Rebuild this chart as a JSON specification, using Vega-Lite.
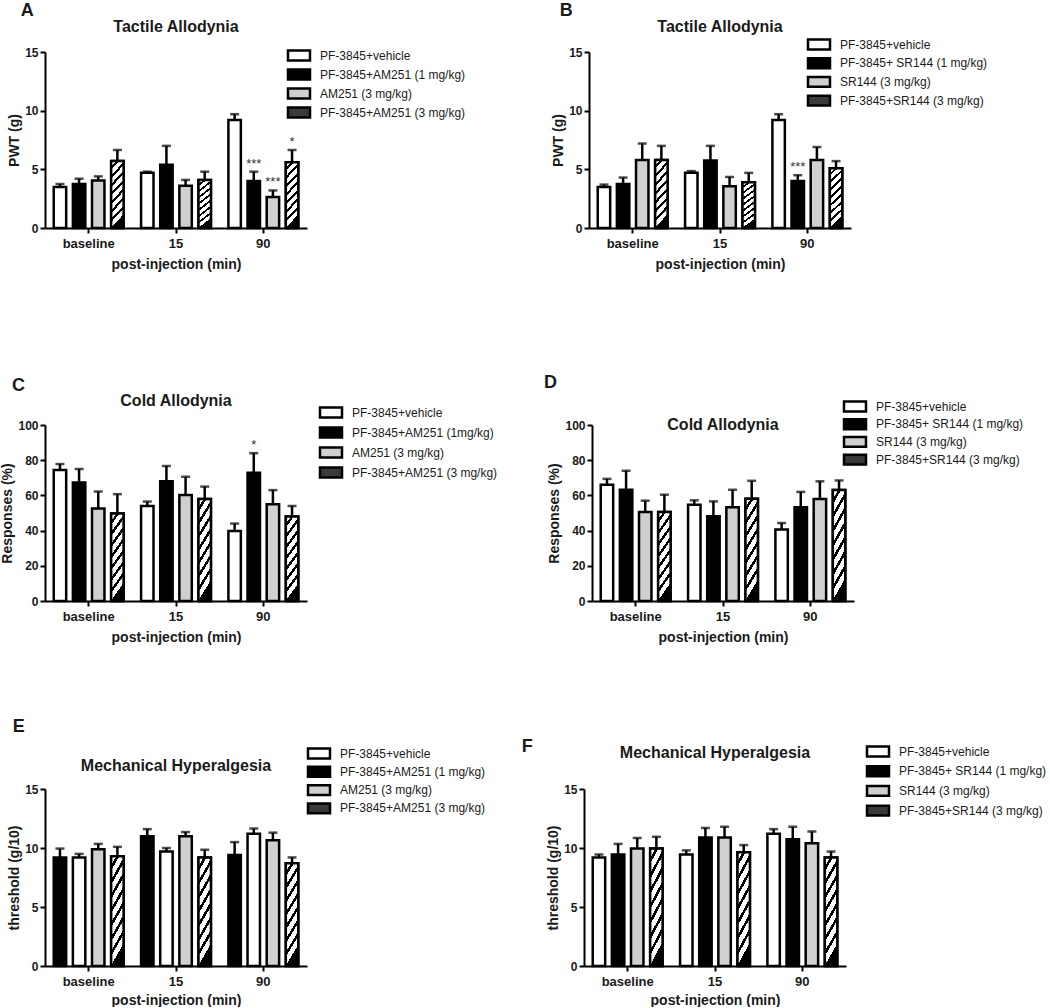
{
"$schema": "https://vega.github.io/schema/vega-lite/v6.json",
"background": "white",
"padding": {"left": 0, "top": 2, "right": 0, "bottom": 0},
"config": {
  "font": "Liberation Sans",
  "view": {"stroke": null},
  "axis": {"domainColor": "black", "domainWidth": 2, "tickColor": "black", "tickWidth": 2, "tickSize": 5, "labelFont": "Liberation Sans", "labelFontWeight": "bold", "labelFontSize": 12, "labelColor": "#1a1a1a", "titleFont": "Liberation Sans", "titleFontWeight": "bold", "titleFontSize": 14, "titleColor": "#1a1a1a", "grid": false, "labelPadding": 2},
  "axisX": {"labelFontSize": 13, "labelAngle": 0, "labelPadding": 4, "titlePadding": 7},
  "axisY": {"titlePadding": 3},
  "title": {"font": "Liberation Sans", "fontWeight": "bold", "fontSize": 16, "color": "#1a1a1a"},
  "legend": {"labelFont": "Liberation Sans", "labelFontSize": 12, "labelColor": "#1a1a1a", "symbolType": "M-2,-0.9H2V0.9H-2Z", "symbolSize": 121, "labelOffset": 14, "padding": 0, "symbolStrokeColor": "black", "symbolStrokeWidth": 2.5}
},
"datasets": {
  "A": [
    {"time": "baseline", "group": "PF-3845+vehicle", "mean": 3.5, "err": 3.75, "sig": ""},
    {"time": "baseline", "group": "PF-3845+AM251 (1 mg/kg)", "mean": 3.75, "err": 4.2, "sig": ""},
    {"time": "baseline", "group": "AM251 (3 mg/kg)", "mean": 4.05, "err": 4.4, "sig": ""},
    {"time": "baseline", "group": "PF-3845+AM251 (3 mg/kg)", "mean": 5.7, "err": 6.65, "sig": ""},
    {"time": "15", "group": "PF-3845+vehicle", "mean": 4.7, "err": 4.8, "sig": ""},
    {"time": "15", "group": "PF-3845+AM251 (1 mg/kg)", "mean": 5.4, "err": 7.0, "sig": ""},
    {"time": "15", "group": "AM251 (3 mg/kg)", "mean": 3.6, "err": 4.1, "sig": ""},
    {"time": "15", "group": "PF-3845+AM251 (3 mg/kg)", "mean": 4.1, "err": 4.8, "sig": ""},
    {"time": "90", "group": "PF-3845+vehicle", "mean": 9.2, "err": 9.7, "sig": ""},
    {"time": "90", "group": "PF-3845+AM251 (1 mg/kg)", "mean": 4.0, "err": 4.8, "sig": "***"},
    {"time": "90", "group": "AM251 (3 mg/kg)", "mean": 2.65, "err": 3.2, "sig": "***"},
    {"time": "90", "group": "PF-3845+AM251 (3 mg/kg)", "mean": 5.6, "err": 6.65, "sig": "*"}
  ],
  "B": [
    {"time": "baseline", "group": "PF-3845+vehicle", "mean": 3.5, "err": 3.7, "sig": ""},
    {"time": "baseline", "group": "PF-3845+ SR144 (1 mg/kg)", "mean": 3.75, "err": 4.3, "sig": ""},
    {"time": "baseline", "group": "SR144 (3 mg/kg)", "mean": 5.8, "err": 7.2, "sig": ""},
    {"time": "baseline", "group": "PF-3845+SR144 (3 mg/kg)", "mean": 5.8, "err": 7.0, "sig": ""},
    {"time": "15", "group": "PF-3845+vehicle", "mean": 4.7, "err": 4.85, "sig": ""},
    {"time": "15", "group": "PF-3845+ SR144 (1 mg/kg)", "mean": 5.75, "err": 7.0, "sig": ""},
    {"time": "15", "group": "SR144 (3 mg/kg)", "mean": 3.55, "err": 4.35, "sig": ""},
    {"time": "15", "group": "PF-3845+SR144 (3 mg/kg)", "mean": 3.9, "err": 4.7, "sig": ""},
    {"time": "90", "group": "PF-3845+vehicle", "mean": 9.2, "err": 9.7, "sig": ""},
    {"time": "90", "group": "PF-3845+ SR144 (1 mg/kg)", "mean": 4.0, "err": 4.5, "sig": "***"},
    {"time": "90", "group": "SR144 (3 mg/kg)", "mean": 5.8, "err": 6.9, "sig": ""},
    {"time": "90", "group": "PF-3845+SR144 (3 mg/kg)", "mean": 5.1, "err": 5.7, "sig": ""}
  ],
  "C": [
    {"time": "baseline", "group": "PF-3845+vehicle", "mean": 74.4, "err": 77.8, "sig": ""},
    {"time": "baseline", "group": "PF-3845+AM251 (1mg/kg)", "mean": 67.4, "err": 75, "sig": ""},
    {"time": "baseline", "group": "AM251 (3 mg/kg)", "mean": 52.6, "err": 62.2, "sig": ""},
    {"time": "baseline", "group": "PF-3845+AM251 (3 mg/kg)", "mean": 49.7, "err": 60.7, "sig": ""},
    {"time": "15", "group": "PF-3845+vehicle", "mean": 54, "err": 56.5, "sig": ""},
    {"time": "15", "group": "PF-3845+AM251 (1mg/kg)", "mean": 68, "err": 76.7, "sig": ""},
    {"time": "15", "group": "AM251 (3 mg/kg)", "mean": 60.2, "err": 70.6, "sig": ""},
    {"time": "15", "group": "PF-3845+AM251 (3 mg/kg)", "mean": 58, "err": 65, "sig": ""},
    {"time": "90", "group": "PF-3845+vehicle", "mean": 39.8, "err": 44, "sig": ""},
    {"time": "90", "group": "PF-3845+AM251 (1mg/kg)", "mean": 72.9, "err": 84, "sig": "*"},
    {"time": "90", "group": "AM251 (3 mg/kg)", "mean": 55, "err": 63, "sig": ""},
    {"time": "90", "group": "PF-3845+AM251 (3 mg/kg)", "mean": 48, "err": 54, "sig": ""}
  ],
  "D": [
    {"time": "baseline", "group": "PF-3845+vehicle", "mean": 66, "err": 69.4, "sig": ""},
    {"time": "baseline", "group": "PF-3845+ SR144 (1 mg/kg)", "mean": 63.2, "err": 74, "sig": ""},
    {"time": "baseline", "group": "SR144 (3 mg/kg)", "mean": 50.6, "err": 57, "sig": ""},
    {"time": "baseline", "group": "PF-3845+SR144 (3 mg/kg)", "mean": 50.6, "err": 60.4, "sig": ""},
    {"time": "15", "group": "PF-3845+vehicle", "mean": 54.7, "err": 57.2, "sig": ""},
    {"time": "15", "group": "PF-3845+ SR144 (1 mg/kg)", "mean": 48.1, "err": 56.6, "sig": ""},
    {"time": "15", "group": "SR144 (3 mg/kg)", "mean": 53.2, "err": 63.2, "sig": ""},
    {"time": "15", "group": "PF-3845+SR144 (3 mg/kg)", "mean": 58.1, "err": 68.3, "sig": ""},
    {"time": "90", "group": "PF-3845+vehicle", "mean": 40.6, "err": 44.3, "sig": ""},
    {"time": "90", "group": "PF-3845+ SR144 (1 mg/kg)", "mean": 53.2, "err": 62, "sig": ""},
    {"time": "90", "group": "SR144 (3 mg/kg)", "mean": 58, "err": 68, "sig": ""},
    {"time": "90", "group": "PF-3845+SR144 (3 mg/kg)", "mean": 63, "err": 68.5, "sig": ""}
  ],
  "E": [
    {"time": "baseline", "group": "PF-3845+vehicle", "mean": 9.2, "err": 9.5, "sig": ""},
    {"time": "baseline", "group": "PF-3845+AM251 (1 mg/kg)", "mean": 9.2, "err": 9.95, "sig": ""},
    {"time": "baseline", "group": "AM251 (3 mg/kg)", "mean": 9.9, "err": 10.35, "sig": ""},
    {"time": "baseline", "group": "PF-3845+AM251 (3 mg/kg)", "mean": 9.3, "err": 10.1, "sig": ""},
    {"time": "15", "group": "PF-3845+vehicle", "mean": 9.7, "err": 10.0, "sig": ""},
    {"time": "15", "group": "PF-3845+AM251 (1 mg/kg)", "mean": 11.0, "err": 11.6, "sig": ""},
    {"time": "15", "group": "AM251 (3 mg/kg)", "mean": 11.0, "err": 11.35, "sig": ""},
    {"time": "15", "group": "PF-3845+AM251 (3 mg/kg)", "mean": 9.2, "err": 9.85, "sig": ""},
    {"time": "90", "group": "PF-3845+vehicle", "mean": 11.2, "err": 11.65, "sig": ""},
    {"time": "90", "group": "PF-3845+AM251 (1 mg/kg)", "mean": 9.4, "err": 10.5, "sig": ""},
    {"time": "90", "group": "AM251 (3 mg/kg)", "mean": 10.65, "err": 11.3, "sig": ""},
    {"time": "90", "group": "PF-3845+AM251 (3 mg/kg)", "mean": 8.7, "err": 9.2, "sig": ""}
  ],
  "F": [
    {"time": "baseline", "group": "PF-3845+vehicle", "mean": 9.2, "err": 9.45, "sig": ""},
    {"time": "baseline", "group": "PF-3845+ SR144 (1 mg/kg)", "mean": 9.45, "err": 10.35, "sig": ""},
    {"time": "baseline", "group": "SR144 (3 mg/kg)", "mean": 9.95, "err": 10.85, "sig": ""},
    {"time": "baseline", "group": "PF-3845+SR144 (3 mg/kg)", "mean": 9.95, "err": 10.95, "sig": ""},
    {"time": "15", "group": "PF-3845+vehicle", "mean": 9.45, "err": 9.8, "sig": ""},
    {"time": "15", "group": "PF-3845+ SR144 (1 mg/kg)", "mean": 10.9, "err": 11.7, "sig": ""},
    {"time": "15", "group": "SR144 (3 mg/kg)", "mean": 10.9, "err": 11.8, "sig": ""},
    {"time": "15", "group": "PF-3845+SR144 (3 mg/kg)", "mean": 9.65, "err": 10.25, "sig": ""},
    {"time": "90", "group": "PF-3845+vehicle", "mean": 11.2, "err": 11.6, "sig": ""},
    {"time": "90", "group": "PF-3845+ SR144 (1 mg/kg)", "mean": 10.75, "err": 11.8, "sig": ""},
    {"time": "90", "group": "SR144 (3 mg/kg)", "mean": 10.4, "err": 11.4, "sig": ""},
    {"time": "90", "group": "PF-3845+SR144 (3 mg/kg)", "mean": 9.2, "err": 9.7, "sig": ""}
  ]
},
"spacing": 102,
"resolve": {"scale": {"fill": "independent", "x": "independent", "y": "independent", "xOffset": "independent"}, "legend": {"fill": "independent"}},
"vconcat": [
{"hconcat": [
{
  "title": {"text": "A", "anchor": "start", "fontSize": 18, "offset": -1, "dx": 13},
  "vconcat": [{
    "title": {"text": "Tactile Allodynia", "offset": 11},
    "width": 262, "height": 176,
    "data": {"name": "A"},
    "encoding": {
      "x": {"field": "time", "type": "nominal", "sort": ["baseline", "15", "90"], "scale": {"paddingInner": 0.2, "paddingOuter": 0.1}, "axis": {"title": "post-injection (min)"}},
      "xOffset": {"field": "group", "type": "nominal", "scale": {"domain": ["PF-3845+vehicle", "PF-3845+AM251 (1 mg/kg)", "AM251 (3 mg/kg)", "PF-3845+AM251 (3 mg/kg)"], "paddingInner": 0.35, "paddingOuter": 0}},
      "y": {"field": "mean", "type": "quantitative", "scale": {"domain": [0, 15], "nice": false}, "axis": {"values": [0, 5, 10, 15], "title": "PWT (g)"}}
    },
    "layer": [
      {"mark": {"type": "rule", "color": "black", "strokeWidth": 2.5}, "encoding": {"y2": {"field": "err"}}},
      {"mark": {"type": "tick", "color": "black", "thickness": 2.5, "size": 9}, "encoding": {"y": {"field": "err", "type": "quantitative", "scale": {"domain": [0, 15], "nice": false}, "axis": {"values": [0, 5, 10, 15], "title": "PWT (g)"}}}},
      {"mark": {"type": "bar", "stroke": "black", "strokeWidth": 2.5}, "encoding": {
        "fill": {"field": "group", "type": "nominal", "scale": {"domain": ["PF-3845+vehicle", "PF-3845+AM251 (1 mg/kg)", "AM251 (3 mg/kg)", "PF-3845+AM251 (3 mg/kg)"], "range": ["white", "black", "#d0d0d0", "#3a3a3a"]},
          "legend": {"title": null, "orient": "none", "legendX": 247, "legendY": -3.5, "rowPadding": -1}}}},
      {"transform": [{"filter": "datum.group === 'PF-3845+AM251 (3 mg/kg)'"}], "mark": {"type": "bar", "stroke": "black", "strokeWidth": 2.5, "fill": {"gradient": "linear", "x1": 0, "y1": 0, "x2": 0.2, "y2": 1, "stops": [{"offset": 0, "color": "white"}, {"offset": 0.08, "color": "white"}, {"offset": 0.08, "color": "black"}, {"offset": 0.125, "color": "black"}, {"offset": 0.125, "color": "white"}, {"offset": 0.205, "color": "white"}, {"offset": 0.205, "color": "black"}, {"offset": 0.25, "color": "black"}, {"offset": 0.25, "color": "white"}, {"offset": 0.33, "color": "white"}, {"offset": 0.33, "color": "black"}, {"offset": 0.375, "color": "black"}, {"offset": 0.375, "color": "white"}, {"offset": 0.455, "color": "white"}, {"offset": 0.455, "color": "black"}, {"offset": 0.5, "color": "black"}, {"offset": 0.5, "color": "white"}, {"offset": 0.58, "color": "white"}, {"offset": 0.58, "color": "black"}, {"offset": 0.625, "color": "black"}, {"offset": 0.625, "color": "white"}, {"offset": 0.705, "color": "white"}, {"offset": 0.705, "color": "black"}, {"offset": 0.75, "color": "black"}, {"offset": 0.75, "color": "white"}, {"offset": 0.83, "color": "white"}, {"offset": 0.83, "color": "black"}, {"offset": 0.875, "color": "black"}, {"offset": 0.875, "color": "white"}, {"offset": 0.955, "color": "white"}, {"offset": 0.955, "color": "black"}, {"offset": 1, "color": "black"}]}}},
      {"transform": [{"filter": "datum.sig != ''"}], "mark": {"type": "text", "baseline": "bottom", "dy": -1, "fontSize": 13, "color": "#333"}, "encoding": {"y": {"field": "err", "type": "quantitative", "scale": {"domain": [0, 15], "nice": false}, "axis": {"values": [0, 5, 10, 15], "title": "PWT (g)"}}, "text": {"field": "sig"}}}
    ]
  }]
},
{
  "title": {"text": "B", "anchor": "start", "fontSize": 18, "offset": -1, "dx": 8},
  "vconcat": [{
    "title": {"text": "Tactile Allodynia", "offset": 11},
    "width": 262, "height": 176,
    "data": {"name": "B"},
    "encoding": {
      "x": {"field": "time", "type": "nominal", "sort": ["baseline", "15", "90"], "scale": {"paddingInner": 0.2, "paddingOuter": 0.1}, "axis": {"title": "post-injection (min)"}},
      "xOffset": {"field": "group", "type": "nominal", "scale": {"domain": ["PF-3845+vehicle", "PF-3845+ SR144 (1 mg/kg)", "SR144 (3 mg/kg)", "PF-3845+SR144 (3 mg/kg)"], "paddingInner": 0.35, "paddingOuter": 0}},
      "y": {"field": "mean", "type": "quantitative", "scale": {"domain": [0, 15], "nice": false}, "axis": {"values": [0, 5, 10, 15], "title": "PWT (g)"}}
    },
    "layer": [
      {"mark": {"type": "rule", "color": "black", "strokeWidth": 2.5}, "encoding": {"y2": {"field": "err"}}},
      {"mark": {"type": "tick", "color": "black", "thickness": 2.5, "size": 9}, "encoding": {"y": {"field": "err", "type": "quantitative", "scale": {"domain": [0, 15], "nice": false}, "axis": {"values": [0, 5, 10, 15], "title": "PWT (g)"}}}},
      {"mark": {"type": "bar", "stroke": "black", "strokeWidth": 2.5}, "encoding": {
        "fill": {"field": "group", "type": "nominal", "scale": {"domain": ["PF-3845+vehicle", "PF-3845+ SR144 (1 mg/kg)", "SR144 (3 mg/kg)", "PF-3845+SR144 (3 mg/kg)"], "range": ["white", "black", "#d0d0d0", "#3a3a3a"]},
          "legend": {"title": null, "orient": "none", "legendX": 223, "legendY": -14.5, "rowPadding": -1.3}}}},
      {"transform": [{"filter": "datum.group === 'PF-3845+SR144 (3 mg/kg)'"}], "mark": {"type": "bar", "stroke": "black", "strokeWidth": 2.5, "fill": {"gradient": "linear", "x1": 0, "y1": 0, "x2": 0.2, "y2": 1, "stops": [{"offset": 0, "color": "white"}, {"offset": 0.08, "color": "white"}, {"offset": 0.08, "color": "black"}, {"offset": 0.125, "color": "black"}, {"offset": 0.125, "color": "white"}, {"offset": 0.205, "color": "white"}, {"offset": 0.205, "color": "black"}, {"offset": 0.25, "color": "black"}, {"offset": 0.25, "color": "white"}, {"offset": 0.33, "color": "white"}, {"offset": 0.33, "color": "black"}, {"offset": 0.375, "color": "black"}, {"offset": 0.375, "color": "white"}, {"offset": 0.455, "color": "white"}, {"offset": 0.455, "color": "black"}, {"offset": 0.5, "color": "black"}, {"offset": 0.5, "color": "white"}, {"offset": 0.58, "color": "white"}, {"offset": 0.58, "color": "black"}, {"offset": 0.625, "color": "black"}, {"offset": 0.625, "color": "white"}, {"offset": 0.705, "color": "white"}, {"offset": 0.705, "color": "black"}, {"offset": 0.75, "color": "black"}, {"offset": 0.75, "color": "white"}, {"offset": 0.83, "color": "white"}, {"offset": 0.83, "color": "black"}, {"offset": 0.875, "color": "black"}, {"offset": 0.875, "color": "white"}, {"offset": 0.955, "color": "white"}, {"offset": 0.955, "color": "black"}, {"offset": 1, "color": "black"}]}}},
      {"transform": [{"filter": "datum.sig != ''"}], "mark": {"type": "text", "baseline": "bottom", "dy": -1, "fontSize": 13, "color": "#333"}, "encoding": {"y": {"field": "err", "type": "quantitative", "scale": {"domain": [0, 15], "nice": false}, "axis": {"values": [0, 5, 10, 15], "title": "PWT (g)"}}, "text": {"field": "sig"}}}
    ]
  }]
}
], "spacing": 85, "resolve": {"scale": {"fill": "independent", "x": "independent", "y": "independent", "xOffset": "independent"}, "legend": {"fill": "independent"}}},
{"vconcat": [
{"hconcat": [
{
  "title": {"text": "C", "anchor": "start", "fontSize": 18, "offset": 40, "dx": 11, "dy": 42},
  "vconcat": [{
    "title": {"text": "Cold Allodynia", "offset": 10},
    "width": 262, "height": 176,
    "data": {"name": "C"},
    "encoding": {
      "x": {"field": "time", "type": "nominal", "sort": ["baseline", "15", "90"], "scale": {"paddingInner": 0.2, "paddingOuter": 0.1}, "axis": {"title": "post-injection (min)"}},
      "xOffset": {"field": "group", "type": "nominal", "scale": {"domain": ["PF-3845+vehicle", "PF-3845+AM251 (1mg/kg)", "AM251 (3 mg/kg)", "PF-3845+AM251 (3 mg/kg)"], "paddingInner": 0.35, "paddingOuter": 0}},
      "y": {"field": "mean", "type": "quantitative", "scale": {"domain": [0, 100], "nice": false}, "axis": {"values": [0, 20, 40, 60, 80, 100], "title": "Responses (%)"}}
    },
    "layer": [
      {"mark": {"type": "rule", "color": "black", "strokeWidth": 2.5}, "encoding": {"y2": {"field": "err"}}},
      {"mark": {"type": "tick", "color": "black", "thickness": 2.5, "size": 9}, "encoding": {"y": {"field": "err", "type": "quantitative", "scale": {"domain": [0, 100], "nice": false}, "axis": {"values": [0, 20, 40, 60, 80, 100], "title": "Responses (%)"}}}},
      {"mark": {"type": "bar", "stroke": "black", "strokeWidth": 2.5}, "encoding": {
        "fill": {"field": "group", "type": "nominal", "scale": {"domain": ["PF-3845+vehicle", "PF-3845+AM251 (1mg/kg)", "AM251 (3 mg/kg)", "PF-3845+AM251 (3 mg/kg)"], "range": ["white", "black", "#d0d0d0", "#3a3a3a"]},
          "legend": {"title": null, "orient": "none", "legendX": 279, "legendY": -19.5, "rowPadding": 0}}}},
      {"transform": [{"filter": "datum.group === 'PF-3845+AM251 (3 mg/kg)'"}], "mark": {"type": "bar", "stroke": "black", "strokeWidth": 2.5, "fill": {"gradient": "linear", "x1": 0, "y1": 0, "x2": 0.2, "y2": 1, "stops": [{"offset": 0, "color": "white"}, {"offset": 0.08, "color": "white"}, {"offset": 0.08, "color": "black"}, {"offset": 0.125, "color": "black"}, {"offset": 0.125, "color": "white"}, {"offset": 0.205, "color": "white"}, {"offset": 0.205, "color": "black"}, {"offset": 0.25, "color": "black"}, {"offset": 0.25, "color": "white"}, {"offset": 0.33, "color": "white"}, {"offset": 0.33, "color": "black"}, {"offset": 0.375, "color": "black"}, {"offset": 0.375, "color": "white"}, {"offset": 0.455, "color": "white"}, {"offset": 0.455, "color": "black"}, {"offset": 0.5, "color": "black"}, {"offset": 0.5, "color": "white"}, {"offset": 0.58, "color": "white"}, {"offset": 0.58, "color": "black"}, {"offset": 0.625, "color": "black"}, {"offset": 0.625, "color": "white"}, {"offset": 0.705, "color": "white"}, {"offset": 0.705, "color": "black"}, {"offset": 0.75, "color": "black"}, {"offset": 0.75, "color": "white"}, {"offset": 0.83, "color": "white"}, {"offset": 0.83, "color": "black"}, {"offset": 0.875, "color": "black"}, {"offset": 0.875, "color": "white"}, {"offset": 0.955, "color": "white"}, {"offset": 0.955, "color": "black"}, {"offset": 1, "color": "black"}]}}},
      {"transform": [{"filter": "datum.sig != ''"}], "mark": {"type": "text", "baseline": "bottom", "dy": -1, "fontSize": 13, "color": "#333"}, "encoding": {"y": {"field": "err", "type": "quantitative", "scale": {"domain": [0, 100], "nice": false}, "axis": {"values": [0, 20, 40, 60, 80, 100], "title": "Responses (%)"}}, "text": {"field": "sig"}}}
    ]
  }]
},
{
  "title": {"text": "D", "anchor": "start", "fontSize": 18, "offset": 62, "dx": -4, "dy": 54},
  "vconcat": [{
    "title": {"text": "Cold Allodynia", "offset": -14},
    "width": 262, "height": 176,
    "data": {"name": "D"},
    "encoding": {
      "x": {"field": "time", "type": "nominal", "sort": ["baseline", "15", "90"], "scale": {"paddingInner": 0.2, "paddingOuter": 0.1}, "axis": {"title": "post-injection (min)"}},
      "xOffset": {"field": "group", "type": "nominal", "scale": {"domain": ["PF-3845+vehicle", "PF-3845+ SR144 (1 mg/kg)", "SR144 (3 mg/kg)", "PF-3845+SR144 (3 mg/kg)"], "paddingInner": 0.35, "paddingOuter": 0}},
      "y": {"field": "mean", "type": "quantitative", "scale": {"domain": [0, 100], "nice": false}, "axis": {"values": [0, 20, 40, 60, 80, 100], "title": "Responses (%)"}}
    },
    "layer": [
      {"mark": {"type": "rule", "color": "black", "strokeWidth": 2.5}, "encoding": {"y2": {"field": "err"}}},
      {"mark": {"type": "tick", "color": "black", "thickness": 2.5, "size": 9}, "encoding": {"y": {"field": "err", "type": "quantitative", "scale": {"domain": [0, 100], "nice": false}, "axis": {"values": [0, 20, 40, 60, 80, 100], "title": "Responses (%)"}}}},
      {"mark": {"type": "bar", "stroke": "black", "strokeWidth": 2.5}, "encoding": {
        "fill": {"field": "group", "type": "nominal", "scale": {"domain": ["PF-3845+vehicle", "PF-3845+ SR144 (1 mg/kg)", "SR144 (3 mg/kg)", "PF-3845+SR144 (3 mg/kg)"], "range": ["white", "black", "#d0d0d0", "#3a3a3a"]},
          "legend": {"title": null, "orient": "none", "legendX": 256, "legendY": -25.5, "rowPadding": -2.3}}}},
      {"transform": [{"filter": "datum.group === 'PF-3845+SR144 (3 mg/kg)'"}], "mark": {"type": "bar", "stroke": "black", "strokeWidth": 2.5, "fill": {"gradient": "linear", "x1": 0, "y1": 0, "x2": 0.2, "y2": 1, "stops": [{"offset": 0, "color": "white"}, {"offset": 0.08, "color": "white"}, {"offset": 0.08, "color": "black"}, {"offset": 0.125, "color": "black"}, {"offset": 0.125, "color": "white"}, {"offset": 0.205, "color": "white"}, {"offset": 0.205, "color": "black"}, {"offset": 0.25, "color": "black"}, {"offset": 0.25, "color": "white"}, {"offset": 0.33, "color": "white"}, {"offset": 0.33, "color": "black"}, {"offset": 0.375, "color": "black"}, {"offset": 0.375, "color": "white"}, {"offset": 0.455, "color": "white"}, {"offset": 0.455, "color": "black"}, {"offset": 0.5, "color": "black"}, {"offset": 0.5, "color": "white"}, {"offset": 0.58, "color": "white"}, {"offset": 0.58, "color": "black"}, {"offset": 0.625, "color": "black"}, {"offset": 0.625, "color": "white"}, {"offset": 0.705, "color": "white"}, {"offset": 0.705, "color": "black"}, {"offset": 0.75, "color": "black"}, {"offset": 0.75, "color": "white"}, {"offset": 0.83, "color": "white"}, {"offset": 0.83, "color": "black"}, {"offset": 0.875, "color": "black"}, {"offset": 0.875, "color": "white"}, {"offset": 0.955, "color": "white"}, {"offset": 0.955, "color": "black"}, {"offset": 1, "color": "black"}]}}}
    ]
  }]
}
], "spacing": 45, "resolve": {"scale": {"fill": "independent", "x": "independent", "y": "independent", "xOffset": "independent"}, "legend": {"fill": "independent"}}},
{"hconcat": [
{
  "title": {"text": "E", "anchor": "start", "fontSize": 18, "offset": 20, "dx": 5, "dy": 9},
  "vconcat": [{
    "title": {"text": "Mechanical Hyperalgesia", "offset": 9},
    "width": 262, "height": 177,
    "data": {"name": "E"},
    "encoding": {
      "x": {"field": "time", "type": "nominal", "sort": ["baseline", "15", "90"], "scale": {"paddingInner": 0.2, "paddingOuter": 0.1}, "axis": {"title": "post-injection (min)", "titlePadding": 5}},
      "xOffset": {"field": "group", "type": "nominal", "scale": {"domain": ["PF-3845+AM251 (1 mg/kg)", "PF-3845+vehicle", "AM251 (3 mg/kg)", "PF-3845+AM251 (3 mg/kg)"], "paddingInner": 0.35, "paddingOuter": 0}},
      "y": {"field": "mean", "type": "quantitative", "scale": {"domain": [0, 15], "nice": false}, "axis": {"values": [0, 5, 10, 15], "title": "threshold (g/10)"}}
    },
    "layer": [
      {"mark": {"type": "rule", "color": "black", "strokeWidth": 2.5}, "encoding": {"y2": {"field": "err"}}},
      {"mark": {"type": "tick", "color": "black", "thickness": 2.5, "size": 9}, "encoding": {"y": {"field": "err", "type": "quantitative", "scale": {"domain": [0, 15], "nice": false}, "axis": {"values": [0, 5, 10, 15], "title": "threshold (g/10)"}}}},
      {"mark": {"type": "bar", "stroke": "black", "strokeWidth": 2.5}, "encoding": {
        "fill": {"field": "group", "type": "nominal", "scale": {"domain": ["PF-3845+vehicle", "PF-3845+AM251 (1 mg/kg)", "AM251 (3 mg/kg)", "PF-3845+AM251 (3 mg/kg)"], "range": ["white", "black", "#d0d0d0", "#3a3a3a"]},
          "legend": {"title": null, "orient": "none", "legendX": 267, "legendY": -42.5, "rowPadding": -1.7}}}},
      {"transform": [{"filter": "datum.group === 'PF-3845+AM251 (3 mg/kg)'"}], "mark": {"type": "bar", "stroke": "black", "strokeWidth": 2.5, "fill": {"gradient": "linear", "x1": 0, "y1": 0, "x2": 0.2, "y2": 1, "stops": [{"offset": 0, "color": "white"}, {"offset": 0.08, "color": "white"}, {"offset": 0.08, "color": "black"}, {"offset": 0.125, "color": "black"}, {"offset": 0.125, "color": "white"}, {"offset": 0.205, "color": "white"}, {"offset": 0.205, "color": "black"}, {"offset": 0.25, "color": "black"}, {"offset": 0.25, "color": "white"}, {"offset": 0.33, "color": "white"}, {"offset": 0.33, "color": "black"}, {"offset": 0.375, "color": "black"}, {"offset": 0.375, "color": "white"}, {"offset": 0.455, "color": "white"}, {"offset": 0.455, "color": "black"}, {"offset": 0.5, "color": "black"}, {"offset": 0.5, "color": "white"}, {"offset": 0.58, "color": "white"}, {"offset": 0.58, "color": "black"}, {"offset": 0.625, "color": "black"}, {"offset": 0.625, "color": "white"}, {"offset": 0.705, "color": "white"}, {"offset": 0.705, "color": "black"}, {"offset": 0.75, "color": "black"}, {"offset": 0.75, "color": "white"}, {"offset": 0.83, "color": "white"}, {"offset": 0.83, "color": "black"}, {"offset": 0.875, "color": "black"}, {"offset": 0.875, "color": "white"}, {"offset": 0.955, "color": "white"}, {"offset": 0.955, "color": "black"}, {"offset": 1, "color": "black"}]}}}
    ]
  }]
},
{
  "title": {"text": "F", "anchor": "start", "fontSize": 18, "offset": 5, "dx": -25, "dy": 16},
  "vconcat": [{
    "title": {"text": "Mechanical Hyperalgesia", "offset": 22},
    "width": 262, "height": 177,
    "data": {"name": "F"},
    "encoding": {
      "x": {"field": "time", "type": "nominal", "sort": ["baseline", "15", "90"], "scale": {"paddingInner": 0.2, "paddingOuter": 0.1}, "axis": {"title": "post-injection (min)", "titlePadding": 5}},
      "xOffset": {"field": "group", "type": "nominal", "scale": {"domain": ["PF-3845+vehicle", "PF-3845+ SR144 (1 mg/kg)", "SR144 (3 mg/kg)", "PF-3845+SR144 (3 mg/kg)"], "paddingInner": 0.35, "paddingOuter": 0}},
      "y": {"field": "mean", "type": "quantitative", "scale": {"domain": [0, 15], "nice": false}, "axis": {"values": [0, 5, 10, 15], "title": "threshold (g/10)"}}
    },
    "layer": [
      {"mark": {"type": "rule", "color": "black", "strokeWidth": 2.5}, "encoding": {"y2": {"field": "err"}}},
      {"mark": {"type": "tick", "color": "black", "thickness": 2.5, "size": 9}, "encoding": {"y": {"field": "err", "type": "quantitative", "scale": {"domain": [0, 15], "nice": false}, "axis": {"values": [0, 5, 10, 15], "title": "threshold (g/10)"}}}},
      {"mark": {"type": "bar", "stroke": "black", "strokeWidth": 2.5}, "encoding": {
        "fill": {"field": "group", "type": "nominal", "scale": {"domain": ["PF-3845+vehicle", "PF-3845+ SR144 (1 mg/kg)", "SR144 (3 mg/kg)", "PF-3845+SR144 (3 mg/kg)"], "range": ["white", "black", "#d0d0d0", "#3a3a3a"]},
          "legend": {"title": null, "orient": "none", "legendX": 287, "legendY": -44.5, "rowPadding": -0.3}}}},
      {"transform": [{"filter": "datum.group === 'PF-3845+SR144 (3 mg/kg)'"}], "mark": {"type": "bar", "stroke": "black", "strokeWidth": 2.5, "fill": {"gradient": "linear", "x1": 0, "y1": 0, "x2": 0.2, "y2": 1, "stops": [{"offset": 0, "color": "white"}, {"offset": 0.08, "color": "white"}, {"offset": 0.08, "color": "black"}, {"offset": 0.125, "color": "black"}, {"offset": 0.125, "color": "white"}, {"offset": 0.205, "color": "white"}, {"offset": 0.205, "color": "black"}, {"offset": 0.25, "color": "black"}, {"offset": 0.25, "color": "white"}, {"offset": 0.33, "color": "white"}, {"offset": 0.33, "color": "black"}, {"offset": 0.375, "color": "black"}, {"offset": 0.375, "color": "white"}, {"offset": 0.455, "color": "white"}, {"offset": 0.455, "color": "black"}, {"offset": 0.5, "color": "black"}, {"offset": 0.5, "color": "white"}, {"offset": 0.58, "color": "white"}, {"offset": 0.58, "color": "black"}, {"offset": 0.625, "color": "black"}, {"offset": 0.625, "color": "white"}, {"offset": 0.705, "color": "white"}, {"offset": 0.705, "color": "black"}, {"offset": 0.75, "color": "black"}, {"offset": 0.75, "color": "white"}, {"offset": 0.83, "color": "white"}, {"offset": 0.83, "color": "black"}, {"offset": 0.875, "color": "black"}, {"offset": 0.875, "color": "white"}, {"offset": 0.955, "color": "white"}, {"offset": 0.955, "color": "black"}, {"offset": 1, "color": "black"}]}}}
    ]
  }]
}
], "spacing": 35, "resolve": {"scale": {"fill": "independent", "x": "independent", "y": "independent", "xOffset": "independent"}, "legend": {"fill": "independent"}}}
], "spacing": 73, "resolve": {"scale": {"fill": "independent", "x": "independent", "y": "independent", "xOffset": "independent"}, "legend": {"fill": "independent"}}}
]
}
